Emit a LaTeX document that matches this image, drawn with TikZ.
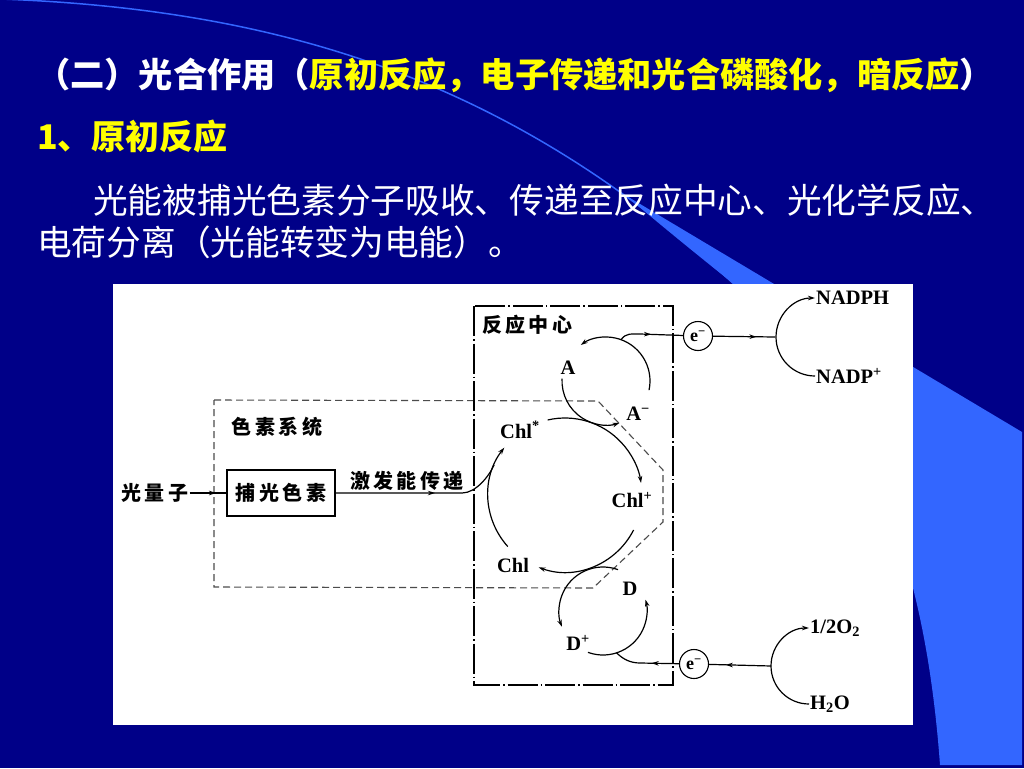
\documentclass[tikz,border=0pt]{standalone}
\usepackage{fontspec}
\setmainfont{Liberation Serif}
\newfontfamily\cjk{Noto Sans CJK SC}
\newfontfamily\cjkls[LetterSpace=17]{Noto Sans CJK SC}
\usetikzlibrary{arrows.meta,decorations.markings}

\definecolor{slidebg}{RGB}{0,0,136}
\definecolor{beam}{RGB}{51,102,255}
\definecolor{titleyellow}{RGB}{255,255,0}

\tikzset{
  flow/.style={line width=1.2pt},
  midarrow/.style={postaction={decorate},decoration={markings,mark=at position #1 with {\arrow{Stealth[length=7pt,width=4.5pt]}}}},
  cnlabel/.style={font=\cjkls\bfseries\fontsize{20}{20}\selectfont,inner sep=1pt},
  chem/.style={font=\bfseries\fontsize{20.5}{20.5}\selectfont,inner sep=1pt},
  elec/.style={circle,draw,line width=1.1pt,inner sep=0pt,minimum size=29pt,font=\bfseries\fontsize{18}{18}\selectfont},
  slidetext/.style={anchor=west,inner sep=0pt,white},
}

\begin{document}
\begin{tikzpicture}[x=1pt,y=-1pt,>={Stealth[length=7pt,width=4.5pt]}]
\useasboundingbox (0,0) rectangle (1024,768);
\fill[slidebg] (0,0) rectangle (1024,768);
% beam of the slide
\fill[beam] (625,195) .. controls (675,237) and (710,265) .. (735,285)
  .. controls (870,410) and (925,560) .. (940,765) -- (1022,765) -- (1022,432) -- cycle;
\draw[beam,line width=1.5pt] (0,-1) .. controls (300,10) and (520,90) .. (735,285);
\fill[white] (113,284) rectangle (913,725);

% heading
\node[slidetext,font=\cjk\bfseries\fontsize{34.2}{34.2}\selectfont] (title) at (36,75) {（二）光合作用（\textcolor{titleyellow}{原初反应，电子传递和光合磷酸化，暗反应}）};
\node[slidetext,titleyellow,font=\cjk\bfseries\fontsize{34}{34}\selectfont] (sub) at (37,137) {1、原初反应};
\node[slidetext,font=\cjk\fontsize{34.7}{34.7}\selectfont] (para) at (93,200) {光能被捕光色素分子吸收、传递至反应中心、光化学反应、};
\node[slidetext,font=\cjk\fontsize{34.7}{34.7}\selectfont] (paratwo) at (37,242) {电荷分离（光能转变为电能）。};

% pigment system
\draw[black!70,dash pattern=on 7pt off 4pt,line width=1.1pt] (214,400) -- (598,401) -- (663,470) -- (663,522) -- (593,588) -- (214,587) -- cycle;
\node[cnlabel] (pigsys) at (277,427) {色素系统};
\node[cnlabel] (photon) at (155,493) {光量子};
\node[cnlabel,draw,line width=1.5pt,minimum width=108pt,minimum height=46pt] (lhc) at (281,493) {捕光色素};
\draw[flow,midarrow=0.72] (photon) -- (lhc);
\node[cnlabel] (exlabel) at (407,481) {激发能传递};
\coordinate (big) at (565,495);
\coordinate (exbend) at (462,493);
\draw[flow,midarrow=0.58] (lhc) -- (exbend) .. controls +(14,0) and +(-5,11) .. ([shift={(203:77)}]big);

% reaction centre
\draw[dash pattern=on 30pt off 3pt on 1.5pt off 3pt,line width=1.1pt] (474,306) rectangle (673,685);
\node[cnlabel,anchor=west] (rclabel) at (481,325) {反应中心};
\draw[flow,->] ([shift={(257:77)}]big) arc[start angle=257,end angle=351,radius=77];
\draw[flow,->] ([shift={(27:77)}]big) arc[start angle=27,end angle=110,radius=77];
\draw[flow,->] ([shift={(138:77)}]big) arc[start angle=138,end angle=218,radius=77];
\node[chem] (chlex) at (520,430) {Chl\textsuperscript{*}};
\node[chem] (chlp) at (632,500) {Chl\textsuperscript{+}};
\node[chem] (chl) at (513,565) {Chl};

% acceptor
\coordinate (acc) at (606,381);
\draw[flow,->] ([shift={(183:44)}]acc) arc[start angle=183,end angle=72,radius=44];
\draw[flow,->] ([shift={(12:44)}]acc) arc[start angle=12,end angle=-125,radius=44];
\node[chem] (acca) at (568,368) {A};
\node[chem] (accm) at (638,414) {A\textsuperscript{−}};
\node[elec] (eup) at (698,336) {e\textsuperscript{−}};
\coordinate (aout) at (640,334);
\draw[flow,midarrow=0.5] ([shift={(-70:44)}]acc) .. controls +(5,-7) and +(-8,0) .. (aout) -- (eup);
\coordinate (nsplit) at (775,337);
\draw[flow,midarrow=0.7] (eup) -- (nsplit);
\node[chem,anchor=west] (nadph) at (815,298) {NADPH};
\node[chem,anchor=west] (nadpp) at (815,376) {NADP\textsuperscript{+}};
\draw[flow,->] (nadpp.west) arc[start angle=90,end angle=270,radius=39];

% donor
\coordinate (don) at (603,611);
\draw[flow,->] ([shift={(-70:44)}]don) arc[start angle=-70,end angle=-201,radius=44];
\draw[flow,->] ([shift={(110:44)}]don) arc[start angle=110,end angle=-15,radius=44];
\node[chem] (dd) at (630,589) {D};
\node[chem] (dp) at (578,643) {D\textsuperscript{+}};
\node[elec] (elow) at (694,664) {e\textsuperscript{−}};
\coordinate (din) at (640,663);
\draw[flow,midarrow=0.42] (elow) -- (din) .. controls +(-10,0) and +(6,6) .. ([shift={(72:44)}]don);
\node[chem,anchor=west] (otwo) at (809,628) {1/2O\textsubscript{2}};
\node[chem,anchor=west] (water) at (809,704) {H\textsubscript{2}O};
\coordinate (wsplit) at (771,666);
\draw[flow,->] (water.west) arc[start angle=90,end angle=270,radius=38];
\draw[flow,midarrow=0.73] (wsplit) -- (elow);
\end{tikzpicture}
\end{document}
